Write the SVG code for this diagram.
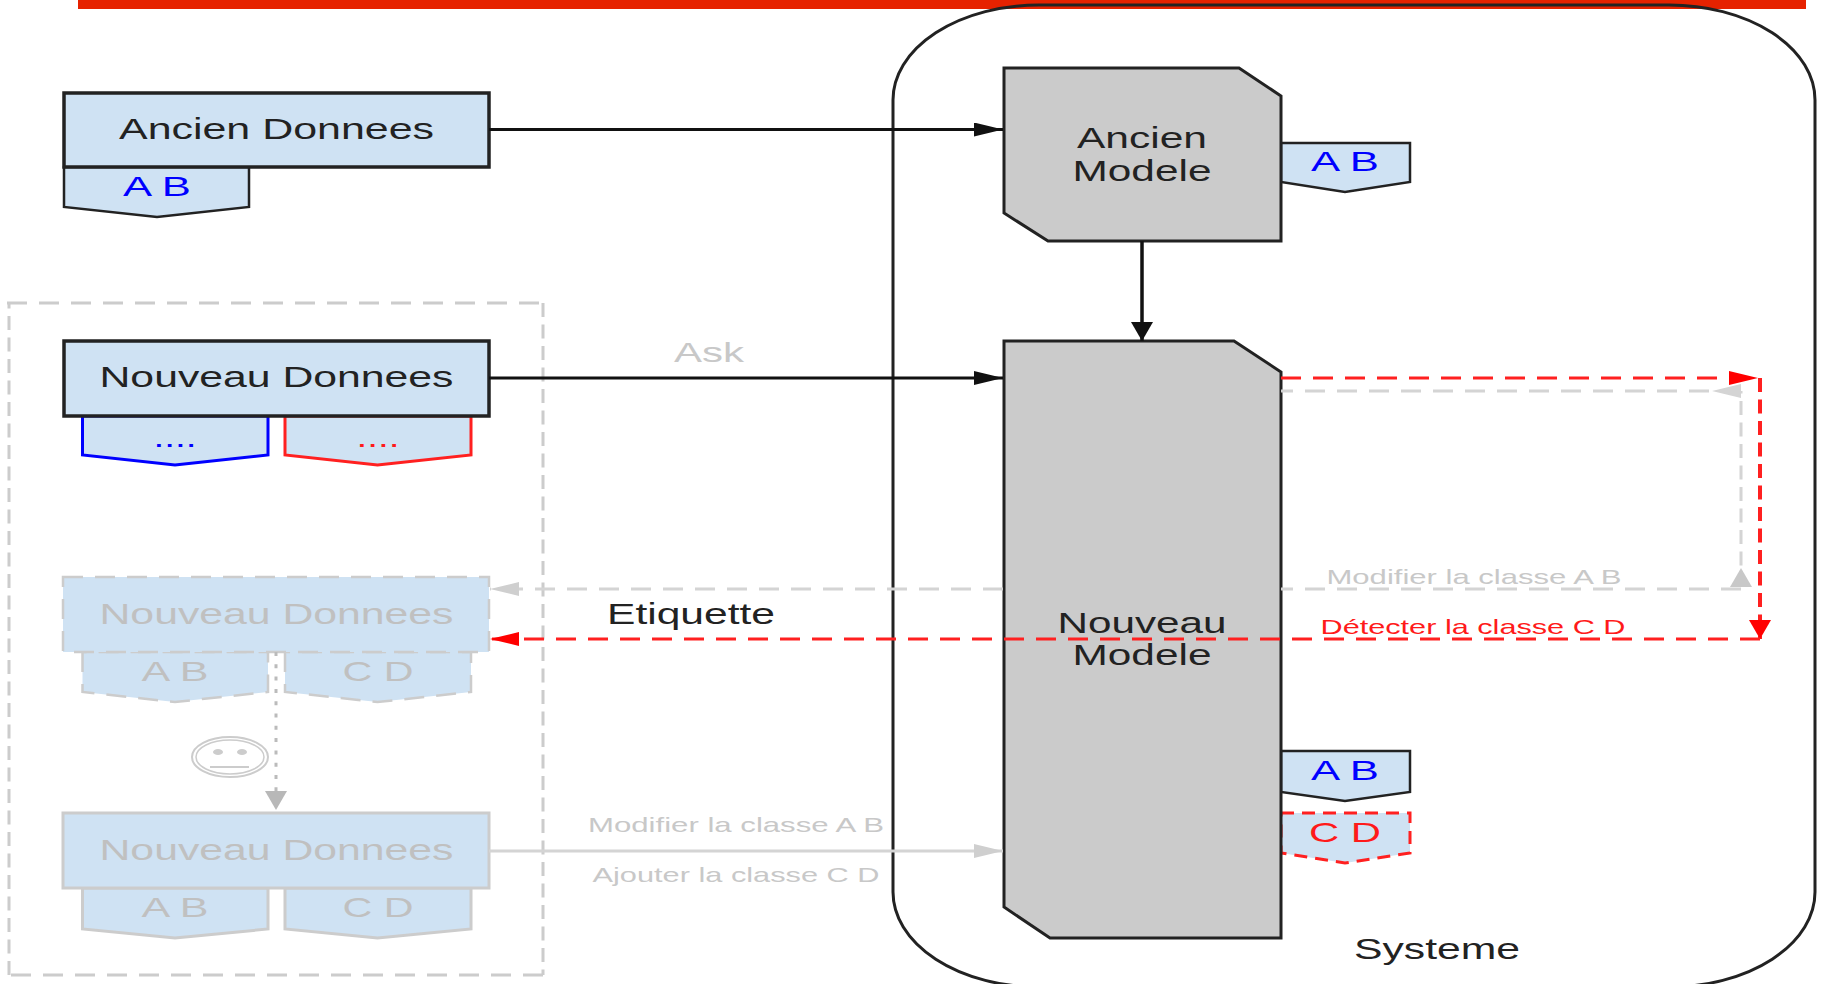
<svg xmlns="http://www.w3.org/2000/svg" width="1823" height="984" viewBox="0 0 1823 984">
<style>
text{font-family:"Liberation Sans",Arial,sans-serif;text-anchor:middle}
.m{font-size:29px;fill:#222}
.g{font-size:29px;fill:#c0c0c0}
.t{font-size:28px}
.s{font-size:21px}
.blue{fill:#0000ff}.red{fill:#ff1a1a}.lg{fill:#c8c8c8}.gt{fill:#c0c0c0}
.box{fill:#cfe2f3;stroke:#222;stroke-width:3.5}
.tag{fill:#cfe2f3;stroke:#222;stroke-width:2.5}
.model{fill:#cbcbcb;stroke:#222;stroke-width:3}
.gd{fill:#cfe2f3;stroke:#cccccc;stroke-width:2.5;stroke-dasharray:20 12}
.gs{fill:#cfe2f3;stroke:#cccccc;stroke-width:3}
.c{fill:none;stroke-width:3}
.k{stroke:#111}.r{stroke:#ff2020}.y{stroke:#d4d4d4}
.dh{stroke-dasharray:20 12}.dv{stroke-dasharray:14 7.5}
.fr{fill:none;stroke:#cccccc;stroke-width:3}
</style>
<defs>
<marker id="hk" markerUnits="userSpaceOnUse" markerWidth="30" markerHeight="16" refX="29" refY="7" orient="auto"><path d="M0,0L29,7L0,14z" fill="#111"/></marker>
<marker id="vk" markerUnits="userSpaceOnUse" markerWidth="20" markerHeight="24" refX="19" refY="11" orient="auto"><path d="M0,0L19,11L0,22z" fill="#111"/></marker>
<marker id="hr" markerUnits="userSpaceOnUse" markerWidth="30" markerHeight="16" refX="29" refY="7" orient="auto"><path d="M0,0L29,7L0,14z" fill="#ff0000"/></marker>
<marker id="vr" markerUnits="userSpaceOnUse" markerWidth="20" markerHeight="24" refX="19" refY="11" orient="auto"><path d="M0,0L19,11L0,22z" fill="#ff0000"/></marker>
<marker id="hy" markerUnits="userSpaceOnUse" markerWidth="30" markerHeight="16" refX="29" refY="7" orient="auto"><path d="M0,0L29,7L0,14z" fill="#cfcfcf"/></marker>
<marker id="hys" markerUnits="userSpaceOnUse" markerWidth="30" markerHeight="16" refX="0" refY="7" orient="auto"><path d="M0,0L29,7L0,14z" fill="#d4d4d4"/></marker>
<marker id="vys" markerUnits="userSpaceOnUse" markerWidth="20" markerHeight="24" refX="0" refY="11" orient="auto"><path d="M0,0L19,11L0,22z" fill="#c8c8c8"/></marker>
<marker id="vy" markerUnits="userSpaceOnUse" markerWidth="20" markerHeight="24" refX="19" refY="11" orient="auto"><path d="M0,0L19,11L0,22z" fill="#b8b8b8"/></marker>
</defs>
<rect id="barre" x="78" y="0" width="1728" height="9" fill="#e62200"/>
<g id="systeme">
<rect x="893" y="5" width="922" height="982" rx="146" ry="95" fill="none" stroke="#222" stroke-width="3"/>
<text class="m" x="1437" y="959" textLength="166" lengthAdjust="spacingAndGlyphs">Systeme</text>
</g>
<g id="cadre">
<path class="fr dh" d="M7,303H543"/>
<path class="fr dv" d="M543,303V975"/>
<path class="fr dh" d="M543,975H9"/>
<path class="fr dv" d="M9,975V303"/>
</g>
<g id="ancien-donnees">
<path class="tag" d="M64,167V207L157,217L249,207V167z"/>
<rect class="box" x="64" y="93" width="425" height="74"/>
<text class="m" x="276.500" y="139" textLength="315" lengthAdjust="spacingAndGlyphs">Ancien Donnees</text>
<text class="t blue" x="157" y="196" textLength="68" lengthAdjust="spacingAndGlyphs">A B</text>
</g>
<g id="nouveau-donnees">
<path class="tag" style="stroke:#0000ff;stroke-width:3" d="M82.500,416V455L175,465L268,455V416z"/>
<path class="tag" style="stroke:#ff2020;stroke-width:3" d="M285,416V455L377.500,465L471,455V416z"/>
<rect class="box" x="64" y="341" width="425" height="75"/>
<text class="m" x="276.500" y="387" textLength="354" lengthAdjust="spacingAndGlyphs">Nouveau Donnees</text>
<text class="t blue" x="175" y="447" textLength="43" lengthAdjust="spacingAndGlyphs">....</text>
<text class="t red" x="378" y="447" textLength="43" lengthAdjust="spacingAndGlyphs">....</text>
</g>
<g id="nouveau-donnees-detecte">
<path class="gd" d="M82.500,652V692L175,702L268,692V652z"/>
<path class="gd" d="M285,652V692L377.500,702L471,692V652z"/>
<rect class="gd" x="63" y="577" width="426" height="75"/>
<text class="g" x="276.500" y="624" textLength="354" lengthAdjust="spacingAndGlyphs">Nouveau Donnees</text>
<text class="t gt" x="175" y="681" textLength="67" lengthAdjust="spacingAndGlyphs">A B</text>
<text class="t gt" x="378" y="681" textLength="71" lengthAdjust="spacingAndGlyphs">C D</text>
</g>
<g id="sourire" fill="none" stroke="#cccccc">
<ellipse cx="230" cy="757" rx="38" ry="20" stroke-width="2"/>
<ellipse cx="230" cy="757" rx="34" ry="17" stroke-width="1.500"/>
<ellipse cx="218" cy="752" rx="5" ry="3" fill="#cccccc" stroke="none"/>
<ellipse cx="242" cy="752" rx="5" ry="3" fill="#cccccc" stroke="none"/>
<path d="M210,767H249" stroke-width="2"/>
</g>
<g id="nouveau-donnees-modifie">
<path class="gs" d="M82.500,888V929L175,938L268,929V888z"/>
<path class="gs" d="M285,888V929L377.500,938L471,929V888z"/>
<rect class="gs" x="63" y="813" width="426" height="75"/>
<text class="g" x="276.500" y="860" textLength="354" lengthAdjust="spacingAndGlyphs">Nouveau Donnees</text>
<text class="t gt" x="175" y="917" textLength="67" lengthAdjust="spacingAndGlyphs">A B</text>
<text class="t gt" x="378" y="917" textLength="71" lengthAdjust="spacingAndGlyphs">C D</text>
</g>
<g id="ancien-modele">
<path class="tag" d="M1281,143H1410V182L1345,192L1281,182z"/>
<path class="model" d="M1004,68H1239L1281,96V241H1048L1004,213z"/>
<text class="m" x="1142" y="148" textLength="130" lengthAdjust="spacingAndGlyphs">Ancien</text>
<text class="m" x="1142" y="181" textLength="139" lengthAdjust="spacingAndGlyphs">Modele</text>
<text class="t blue" x="1345" y="171" textLength="68" lengthAdjust="spacingAndGlyphs">A B</text>
</g>
<g id="nouveau-modele">
<path class="tag" d="M1281,751H1410V792L1345,801L1281,792z"/>
<path class="tag" style="stroke:#ff2020;stroke-width:3;stroke-dasharray:13 8" d="M1281,813H1410V853L1345,863L1281,853z"/>
<path class="model" d="M1004,341H1234L1281,372V938H1050L1004,907z"/>
<text class="m" x="1142" y="633" textLength="169" lengthAdjust="spacingAndGlyphs">Nouveau</text>
<text class="m" x="1142" y="665" textLength="139" lengthAdjust="spacingAndGlyphs">Modele</text>
<text class="t blue" x="1345" y="780" textLength="68" lengthAdjust="spacingAndGlyphs">A B</text>
<text class="t red" x="1345" y="842" textLength="72" lengthAdjust="spacingAndGlyphs">C D</text>
</g>
<g id="connecteurs">
<path class="c k" d="M489,129.500H1003" marker-end="url(#hk)"/>
<path class="c k" d="M489,378H1003" marker-end="url(#hk)"/>
<path class="c k" style="stroke-width:3.500" d="M1142,241V341" marker-end="url(#vk)"/>
<path class="c y dh" d="M1741,391H1281" marker-start="url(#hys)"/>
<path class="c y dv" d="M1741,587V391" marker-start="url(#vys)"/>
<path class="c y dh" d="M1741,589H1281"/>
<path class="c y dh" d="M1003,589H490" marker-end="url(#hy)"/>
<path class="c r dh" d="M1281,378H1758" marker-end="url(#hr)"/>
<path class="c r dv" d="M1760,378V639" style="stroke-width:4" marker-end="url(#vr)"/>
<path class="c r dh" d="M1760,639H490" marker-end="url(#hr)"/>
<path class="c" stroke="#bbb" stroke-dasharray="4 8.300" d="M276,652V810" marker-end="url(#vy)"/>
<path class="c y" d="M489,851H1003" marker-end="url(#hy)"/>
<text class="s lg" style="font-size:28px" x="709" y="362" textLength="70" lengthAdjust="spacingAndGlyphs">Ask</text>
<text class="m" x="691" y="624" textLength="168" lengthAdjust="spacingAndGlyphs">Etiquette</text>
<text class="s lg" x="736" y="832" textLength="296" lengthAdjust="spacingAndGlyphs">Modifier la classe A B</text>
<text class="s lg" x="736" y="882" textLength="287" lengthAdjust="spacingAndGlyphs">Ajouter la classe C D</text>
<text class="s lg" x="1474" y="584" textLength="295" lengthAdjust="spacingAndGlyphs">Modifier la classe A B</text>
<text class="s red" x="1473" y="634" textLength="305" lengthAdjust="spacingAndGlyphs">Détecter la classe C D</text>
</g>
</svg>
